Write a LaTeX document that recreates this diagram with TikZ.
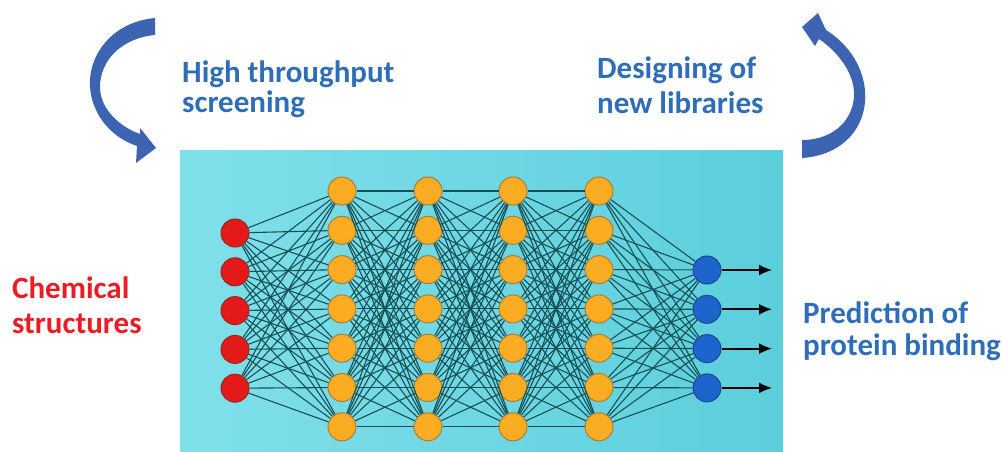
\documentclass[tikz,border=0pt]{standalone}
\usepackage{fontspec}
\setmainfont{Carlito}
\usepackage{tikz}
\usetikzlibrary{arrows.meta}

\definecolor{labelblue}{RGB}{46,110,184}
\definecolor{labelred}{RGB}{235,28,36}
\definecolor{cyclearrow}{RGB}{60,100,178}
\definecolor{panelleft}{RGB}{128,224,234}
\definecolor{panelright}{RGB}{92,206,220}
\definecolor{linkteal}{RGB}{22,80,85}
\definecolor{neuronred}{RGB}{228,25,25}
\definecolor{neuronredline}{RGB}{150,40,30}
\definecolor{neuronorange}{RGB}{250,172,35}
\definecolor{neuronorangeline}{RGB}{175,125,50}
\definecolor{neuronblue}{RGB}{30,100,205}
\definecolor{neuronblueline}{RGB}{30,70,140}

\tikzset{neuron/.style = {circle, minimum size=28pt, inner sep=0pt, line width=1pt}}
\tikzset{inputnode/.style = {neuron, fill=neuronred, draw=neuronredline}}
\tikzset{hiddennode/.style = {neuron, fill=neuronorange, draw=neuronorangeline}}
\tikzset{outputnode/.style = {neuron, fill=neuronblue, draw=neuronblueline}}
\tikzset{link/.style = {draw=linkteal, line width=1.1pt}}
\tikzset{outarrow/.style = {draw=black, line width=1.8pt, -{Latex[length=13pt,width=11pt]}}}
\tikzset{caption/.style = {font=\fontsize{31}{33}\selectfont\bfseries, align=left,
                           anchor=base west, inner sep=0pt}}

\begin{document}
\begin{tikzpicture}[x=1pt, y=-1pt]
    \useasboundingbox (0, 0) rectangle (1003, 452);

    \shade [left color=panelleft, right color=panelright] (180, 150) rectangle (783, 452);

    \foreach \n in {1,...,5} {
      \node [inputnode] (i\n) at (235, {233 + 38.8*(\n-1)}) {};
    }
    \foreach \l/\x in {1/342, 2/428, 3/513, 4/599} {
      \foreach \n in {1,...,7} {
        \node [hiddennode] (h\l-\n) at (\x, {191 + 39.3*(\n-1)}) {};
      }
    }
    \foreach \n in {1,...,4} {
      \node [outputnode] (o\n) at (707, {270 + 39.3*(\n-1)}) {};
      \coordinate (e\n) at (772, {270 + 39.3*(\n-1)});
    }

    \foreach \a in {1,...,5} {
      \foreach \b in {1,...,7} {
        \draw [link] (i\a) -- (h1-\b);
      }
    }
    \foreach \l/\m in {1/2, 2/3, 3/4} {
      \foreach \a in {1,...,7} {
        \foreach \b in {1,...,7} {
          \draw [link] (h\l-\a) -- (h\m-\b);
        }
      }
    }
    \foreach \a in {1,...,7} {
      \foreach \b in {1,...,4} {
        \draw [link] (h4-\a) -- (o\b);
      }
    }
    \foreach \n in {1,...,4} {
      \draw [outarrow] (o\n) -- (e\n);
    }

    % cycle arrows
    \fill [cyclearrow] (155, 18) .. controls (112, 22) and (88, 55) .. (90, 87)
      .. controls (92, 115) and (112, 138) .. (137, 146) -- (136, 163) -- (156, 148)
      -- (140, 128) -- (140, 134) .. controls (118, 126) and (100, 108) .. (100, 87)
      .. controls (100, 60) and (122, 38) .. (155, 35) -- cycle;
    \fill [cyclearrow] (802, 158) .. controls (845, 155) and (868, 125) .. (865, 90)
      .. controls (862, 62) and (845, 42) .. (826, 30) -- (818, 13) -- (802, 27)
      -- (815, 46) -- (819, 39) .. controls (838, 52) and (853, 72) .. (854, 92)
      .. controls (855, 118) and (835, 140) .. (802, 140) -- cycle;

    \node [caption, text=labelblue, font=\fontsize{31}{30}\selectfont\bfseries]
      (screening) at (182, 112) {High throughput\\screening};
    \node [caption, text=labelblue, font=\fontsize{31}{35}\selectfont\bfseries]
      (libraries) at (597, 113) {Designing of\\new libraries};
    \node [caption, text=labelred, font=\fontsize{31}{35}\selectfont\bfseries]
      (chemical) at (12, 333) {Chemical\\structures};
    \node [caption, text=labelblue, font=\fontsize{31}{32}\selectfont\bfseries]
      (prediction) at (803, 355) {Prediction of\\protein binding};
  \end{tikzpicture}
\end{document}
